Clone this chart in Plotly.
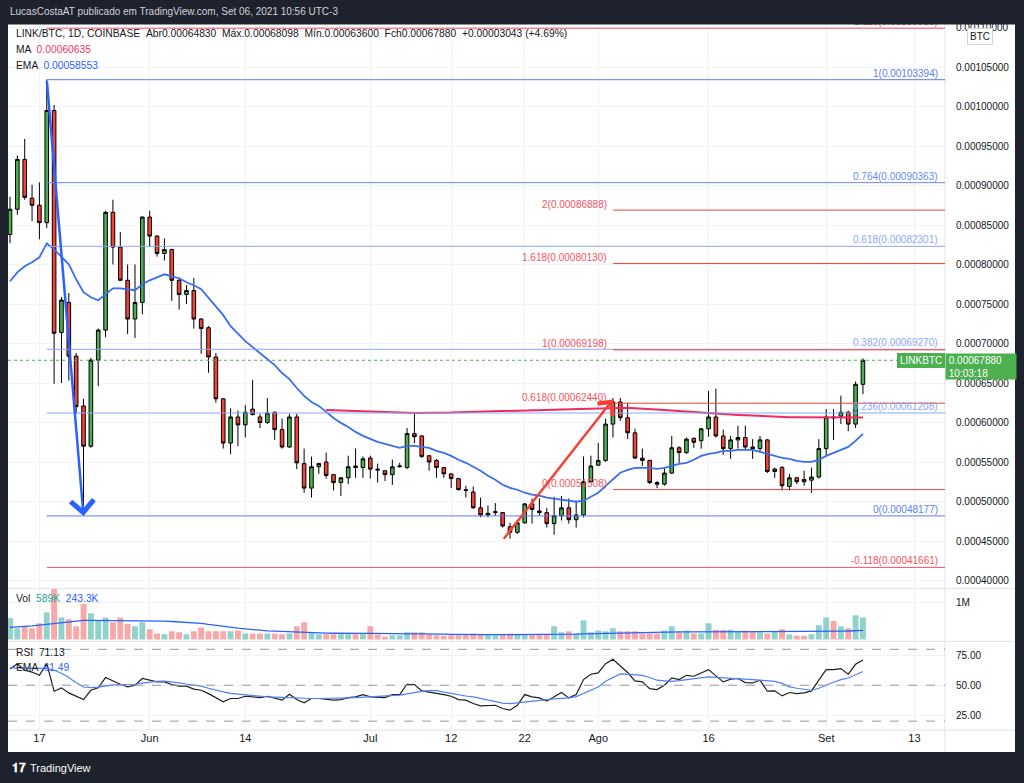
import pandas as pd
import plotly.graph_objects as go

# ---------------- data ----------------
START_DATE = "2021-05-13"

opens = [0.000838, 0.000870, 0.000933, 0.000884, 0.000875, 0.000853, 0.000995, 0.000714, 0.000752, 0.000684,
         0.000621, 0.000570, 0.000679, 0.000717, 0.000866, 0.000822, 0.000780, 0.000731, 0.000752, 0.000860,
         0.000836, 0.000814, 0.000819, 0.000780, 0.000762, 0.000767, 0.000731, 0.000720, 0.000683, 0.000630,
         0.000574, 0.000607, 0.000597, 0.000617, 0.000607, 0.000600, 0.000613, 0.000591, 0.000569, 0.000607,
         0.000548, 0.000517, 0.000544, 0.000550, 0.000534, 0.000524, 0.000530, 0.000545, 0.000543, 0.000555,
         0.000541, 0.000539, 0.000534, 0.000544, 0.000543, 0.000586, 0.000583, 0.000558, 0.000552, 0.000543,
         0.000535, 0.000529, 0.000515, 0.000512, 0.000492, 0.000483, 0.000486, 0.000486, 0.000468, 0.000461,
         0.000473, 0.000497, 0.000488, 0.000486, 0.000472, 0.000482, 0.000492, 0.000477, 0.000483, 0.000525,
         0.000546, 0.000552, 0.000598, 0.000626, 0.000606, 0.000587, 0.000555, 0.000552, 0.000524, 0.000522,
         0.000536, 0.000568, 0.000562, 0.000580, 0.000577, 0.000592, 0.000607, 0.000583, 0.000567, 0.000578,
         0.000581, 0.000569, 0.000567, 0.000578, 0.000538, 0.000543, 0.000519, 0.000530, 0.000528, 0.000527,
         0.000531, 0.000567, 0.000607, 0.000608, 0.000613, 0.000598, 0.0006483]

highs = [0.000886, 0.000938, 0.000959, 0.000901, 0.000904, 0.00103394, 0.001002, 0.000759, 0.000764, 0.000688,
         0.000630, 0.000682, 0.000719, 0.000868, 0.000882, 0.000841, 0.000800, 0.000800, 0.000861, 0.000868,
         0.000837, 0.000833, 0.000820, 0.000783, 0.000774, 0.000783, 0.000732, 0.000722, 0.000688, 0.000631,
         0.000618, 0.000615, 0.000622, 0.000654, 0.000611, 0.000631, 0.000614, 0.000605, 0.000611, 0.000611,
         0.000567, 0.000557, 0.000549, 0.000562, 0.000534, 0.000531, 0.000558, 0.000567, 0.000557, 0.000558,
         0.000548, 0.000539, 0.000553, 0.000549, 0.000593, 0.000611, 0.000584, 0.000558, 0.000554, 0.000543,
         0.000535, 0.000530, 0.000520, 0.000519, 0.000505, 0.000495, 0.000498, 0.000486, 0.000473, 0.000476,
         0.000498, 0.000504, 0.000504, 0.000492, 0.000506, 0.000507, 0.000504, 0.000501, 0.000557, 0.000558,
         0.000574, 0.000605, 0.000631, 0.000631, 0.000625, 0.000592, 0.000567, 0.000553, 0.000526, 0.000543,
         0.000583, 0.000570, 0.000581, 0.000581, 0.000593, 0.000640, 0.000643, 0.000591, 0.000583, 0.000596,
         0.000596, 0.000579, 0.000583, 0.000579, 0.000543, 0.000545, 0.000535, 0.000531, 0.000539, 0.000543,
         0.000579, 0.000617, 0.000617, 0.000634, 0.000615, 0.000652, 0.00068098]

lows = [0.000827, 0.000863, 0.000882, 0.000855, 0.000832, 0.000846, 0.000649, 0.000650, 0.000653, 0.000611,
        0.00048177, 0.000568, 0.000646, 0.000708, 0.000800, 0.000779, 0.000712, 0.000707, 0.000737, 0.000822,
        0.000810, 0.000805, 0.000754, 0.000743, 0.000750, 0.000719, 0.000687, 0.000663, 0.000625, 0.000567,
        0.000560, 0.000570, 0.000581, 0.000609, 0.000593, 0.000598, 0.000578, 0.000567, 0.000568, 0.000541,
        0.000511, 0.000505, 0.000535, 0.000529, 0.000514, 0.000507, 0.000522, 0.000530, 0.000530, 0.000529,
        0.000524, 0.000526, 0.000521, 0.000543, 0.000541, 0.000574, 0.000555, 0.000539, 0.000530, 0.000530,
        0.000517, 0.000514, 0.000505, 0.000491, 0.000480, 0.000480, 0.000482, 0.000467, 0.000453, 0.000459,
        0.000472, 0.000472, 0.000482, 0.000467, 0.000458, 0.000476, 0.000472, 0.000467, 0.000480, 0.000524,
        0.000545, 0.000550, 0.000581, 0.000602, 0.000579, 0.000554, 0.000545, 0.000522, 0.000517, 0.000520,
        0.000535, 0.000549, 0.000560, 0.000568, 0.000567, 0.000582, 0.000581, 0.000559, 0.000554, 0.000567,
        0.000565, 0.000554, 0.000564, 0.000536, 0.000530, 0.000514, 0.000514, 0.000522, 0.000520, 0.000511,
        0.000529, 0.000558, 0.000578, 0.000598, 0.000589, 0.000593, 0.000636]

closes = [0.000870, 0.000933, 0.000885, 0.000875, 0.000853, 0.000995, 0.000713, 0.000755, 0.000684, 0.000620,
          0.000570, 0.000679, 0.000717, 0.000866, 0.000822, 0.000780, 0.000731, 0.000752, 0.000860, 0.000836,
          0.000814, 0.000819, 0.000780, 0.000762, 0.000767, 0.000731, 0.000719, 0.000683, 0.000630, 0.000574,
          0.000607, 0.000597, 0.000613, 0.000610, 0.000600, 0.000612, 0.000591, 0.000569, 0.000607, 0.000549,
          0.000517, 0.000544, 0.000548, 0.000533, 0.000524, 0.000530, 0.000544, 0.000543, 0.000554, 0.000541,
          0.000540, 0.000534, 0.000544, 0.000545, 0.000586, 0.000582, 0.000557, 0.000550, 0.000543, 0.000535,
          0.000529, 0.000515, 0.000514, 0.000492, 0.000483, 0.000485, 0.000487, 0.000469, 0.000461, 0.000473,
          0.000497, 0.000490, 0.000486, 0.000472, 0.000482, 0.000492, 0.000477, 0.000483, 0.000525, 0.000545,
          0.000552, 0.000598, 0.000626, 0.000606, 0.000587, 0.000555, 0.000552, 0.000524, 0.000522, 0.000536,
          0.000568, 0.000562, 0.000579, 0.000575, 0.000592, 0.000607, 0.000583, 0.000567, 0.000578, 0.000581,
          0.000569, 0.000567, 0.000578, 0.000538, 0.000541, 0.000520, 0.000530, 0.000525, 0.000525, 0.000531,
          0.000567, 0.000607, 0.000606, 0.000613, 0.000598, 0.00064837, 0.0006788]

# volume in millions
volumes_m = [0.57, 0.30, 0.35, 0.30, 0.43, 0.73, 1.35, 0.59, 0.54, 0.35,
             0.95, 0.70, 0.49, 0.59, 0.46, 0.59, 0.41, 0.35, 0.46, 0.27,
             0.16, 0.14, 0.22, 0.19, 0.14, 0.22, 0.32, 0.22, 0.22, 0.22,
             0.22, 0.24, 0.16, 0.16, 0.16, 0.16, 0.16, 0.14, 0.16, 0.35,
             0.46, 0.19, 0.14, 0.14, 0.14, 0.14, 0.14, 0.14, 0.14, 0.35,
             0.13, 0.08, 0.11, 0.11, 0.19, 0.19, 0.19, 0.13, 0.11, 0.10,
             0.11, 0.11, 0.13, 0.16, 0.13, 0.13, 0.11, 0.13, 0.16, 0.13,
             0.13, 0.13, 0.13, 0.13, 0.35, 0.19, 0.22, 0.16, 0.51, 0.19,
             0.24, 0.22, 0.30, 0.22, 0.22, 0.22, 0.16, 0.16, 0.16, 0.24,
             0.35, 0.19, 0.24, 0.16, 0.16, 0.43, 0.26, 0.26, 0.26, 0.22,
             0.24, 0.22, 0.19, 0.16, 0.22, 0.27, 0.13, 0.10, 0.10, 0.14,
             0.38, 0.59, 0.49, 0.35, 0.30, 0.65, 0.589]

vol_ma_m = [0.32, 0.33, 0.35, 0.36, 0.38, 0.40, 0.43, 0.45, 0.48, 0.50,
            0.51, 0.51, 0.51, 0.51, 0.51, 0.51, 0.51, 0.51, 0.51, 0.51,
            0.50, 0.49, 0.48, 0.47, 0.45, 0.44, 0.43, 0.40, 0.37, 0.35,
            0.32, 0.30, 0.28, 0.26, 0.24, 0.23, 0.22, 0.21, 0.20, 0.19,
            0.185, 0.18, 0.175, 0.17, 0.165, 0.16, 0.16, 0.16, 0.16, 0.16,
            0.16, 0.16, 0.155, 0.155, 0.155, 0.155, 0.155, 0.15, 0.15, 0.14,
            0.135, 0.13, 0.13, 0.13, 0.13, 0.125, 0.125, 0.125, 0.125, 0.125,
            0.125, 0.125, 0.125, 0.125, 0.13, 0.13, 0.135, 0.14, 0.15, 0.155,
            0.16, 0.165, 0.17, 0.175, 0.18, 0.185, 0.19, 0.19, 0.19, 0.195,
            0.20, 0.20, 0.20, 0.20, 0.20, 0.205, 0.205, 0.21, 0.21, 0.21,
            0.21, 0.21, 0.21, 0.21, 0.21, 0.21, 0.205, 0.20, 0.20, 0.20,
            0.205, 0.21, 0.215, 0.22, 0.225, 0.235, 0.2433]

# long moving average (drawn from 43rd bar on)
ma_values = [None] * 43 + [
    0.0006159, 0.0006155, 0.0006151, 0.0006146, 0.0006144, 0.0006140, 0.0006138, 0.0006134, 0.0006131, 0.0006129,
    0.0006126, 0.0006124, 0.0006121, 0.0006121, 0.0006121, 0.0006124, 0.0006126, 0.0006127, 0.0006131, 0.0006134,
    0.0006136, 0.0006139, 0.0006141, 0.0006144, 0.0006146, 0.0006150, 0.0006153, 0.0006155, 0.0006157, 0.0006158,
    0.0006159, 0.0006162, 0.0006164, 0.0006167, 0.0006169, 0.0006172, 0.0006175, 0.0006179, 0.0006184, 0.0006188,
    0.0006191, 0.0006187, 0.0006182, 0.0006178, 0.0006172, 0.0006165, 0.0006159, 0.0006151, 0.0006144, 0.0006136,
    0.0006130, 0.0006124, 0.0006119, 0.0006112, 0.0006106, 0.0006101, 0.0006096, 0.0006091, 0.0006086, 0.0006081,
    0.0006077, 0.0006073, 0.0006071, 0.0006068, 0.0006067, 0.0006066, 0.0006064, 0.0006063, 0.0006063, 0.0006063,
    0.0006062, 0.0006062, 0.0006063, 0.00060635]

ema_values = [0.0007788, 0.0007901, 0.0007977, 0.0008028, 0.0008091, 0.0008268, 0.0008192, 0.0008103, 0.0008002, 0.0007813,
              0.0007649, 0.0007586, 0.0007548, 0.0007624, 0.0007699, 0.0007699, 0.0007687, 0.0007674, 0.0007750, 0.0007800,
              0.0007838, 0.0007876, 0.0007851, 0.0007826, 0.0007775, 0.0007737, 0.0007687, 0.0007573, 0.0007472, 0.0007359,
              0.0007220, 0.0007119, 0.0007030, 0.0006954, 0.0006879, 0.0006803, 0.0006727, 0.0006626, 0.0006550, 0.0006437,
              0.0006336, 0.0006260, 0.0006210, 0.0006134, 0.0006058, 0.0005995, 0.0005944, 0.0005881, 0.0005831, 0.0005793,
              0.0005755, 0.0005730, 0.0005705, 0.0005679, 0.0005705, 0.0005705, 0.0005692, 0.0005679, 0.0005641, 0.0005616,
              0.0005578, 0.0005528, 0.0005490, 0.0005439, 0.0005389, 0.0005326, 0.0005275, 0.0005212, 0.0005174, 0.0005149,
              0.0005111, 0.0005086, 0.0005073, 0.0005048, 0.0005035, 0.0005023, 0.0005010, 0.0004997, 0.0005010, 0.0005061,
              0.0005111, 0.0005199, 0.0005288, 0.0005364, 0.0005401, 0.0005427, 0.0005427, 0.0005427, 0.0005414, 0.0005427,
              0.0005452, 0.0005477, 0.0005490, 0.0005528, 0.0005578, 0.0005604, 0.0005616, 0.0005641, 0.0005641, 0.0005654,
              0.0005654, 0.0005654, 0.0005629, 0.0005604, 0.0005578, 0.0005553, 0.0005540, 0.0005515, 0.0005502, 0.0005502,
              0.0005528, 0.0005578, 0.0005616, 0.0005654, 0.0005692, 0.0005768, 0.00058553]

rsi_values = [63.5, 68.0, 62.5, 61.0, 58.3, 68.0, 45.0, 47.8, 43.6, 41.0,
              38.0, 45.8, 47.8, 56.4, 53.3, 50.8, 48.6, 50.0, 55.6, 54.2,
              52.8, 52.8, 50.6, 49.2, 49.2, 46.7, 45.8, 43.0, 39.7, 36.1,
              38.9, 38.9, 40.8, 40.3, 39.7, 40.8, 38.9, 37.5, 42.5, 38.0,
              35.3, 38.9, 38.9, 38.0, 37.5, 38.0, 39.7, 40.3, 42.2, 40.3,
              40.3, 39.7, 42.2, 42.2, 50.8, 50.6, 45.3, 44.4, 43.6, 42.2,
              40.8, 38.0, 37.5, 34.7, 32.8, 33.3, 33.3, 30.6, 29.2, 33.3,
              42.2, 40.3, 39.4, 36.7, 40.3, 43.9, 39.4, 42.2, 54.7, 59.2,
              60.3, 68.0, 71.7, 65.8, 60.6, 53.6, 52.8, 47.2, 46.4, 50.0,
              56.1, 54.7, 58.3, 57.5, 60.6, 63.0, 57.8, 52.8, 55.0, 55.6,
              52.2, 51.9, 54.2, 45.0, 45.3, 41.1, 43.9, 43.0, 43.6, 45.3,
              54.2, 63.0, 63.0, 63.9, 59.2, 67.5, 71.13]

rsi_ema_values = [64.5, 64.5, 64.5, 64.5, 64.0, 64.0, 62.5, 60.0, 56.5, 52.0,
                  48.5, 48.0, 48.5, 49.5, 50.3, 50.6, 50.7, 50.8, 51.8, 52.8,
                  53.2, 53.5, 53.0, 52.0, 51.0, 50.0, 49.3, 47.5, 45.8, 44.5,
                  43.2, 42.5, 41.9, 41.6, 41.0, 40.3, 40.0, 39.7, 39.5, 39.0,
                  38.9, 38.9, 38.9, 38.9, 38.9, 39.1, 39.4, 39.7, 40.0, 40.3,
                  40.8, 41.2, 41.5, 41.7, 42.8, 44.0, 44.8, 45.5, 45.5, 44.2,
                  43.0, 42.0, 41.0, 40.3, 39.0, 37.6, 36.3, 35.0, 34.6, 35.3,
                  36.2, 36.8, 37.5, 38.0, 38.6, 39.0, 39.4, 40.5, 43.0, 45.8,
                  48.5, 53.4, 56.5, 59.5, 59.3, 58.6, 58.2, 56.5, 54.2, 53.7,
                  53.3, 53.8, 54.5, 55.3, 56.3, 56.9, 56.5, 56.0, 55.8, 55.6,
                  55.0, 54.6, 54.2, 53.8, 53.2, 51.5, 48.6, 47.5, 46.5, 45.8,
                  47.5, 50.3, 52.5, 54.7, 56.0, 58.8, 61.49]

# Fibonacci drawings
FIB1_START = "2021-05-18"
fib1_levels = ["1.118", "1", "0.764", "0.618", "0.382", "0.236", "0", "-0.118"]
fib1_prices = [0.00109910, 0.00103394, 0.00090363, 0.00082301, 0.00069270, 0.00061208, 0.00048177, 0.00041661]
fib1_colors = ["#f7525f", "#5b7ff0", "#6a8cf2", "#8aa8f6", "#8aa8f6", "#8aa8f6", "#5b7ff0", "#f7525f"]

FIB2_START = "2021-08-03"
fib2_levels = ["2", "1.618", "1", "0.618", "0"]
fib2_prices = [0.00086888, 0.00080130, 0.00069198, 0.00062440, 0.00051508]

# trend arrows (tail -> head)
blue_arrow = dict(x0="2021-05-18", y0=0.00103394, x1="2021-05-23", y1=0.00048177)
red_arrow = dict(x0="2021-07-19", y0=0.000451, x1="2021-08-03", y1=0.000629)

tick_dates = ["2021-05-17", "2021-06-01", "2021-06-14", "2021-07-01", "2021-07-12",
              "2021-07-22", "2021-08-01", "2021-08-16", "2021-09-01", "2021-09-13"]
tick_text = ["17", "Jun", "14", "Jul", "12", "22", "Ago", "16", "Set", "13"]
price_ticks = [0.00040, 0.00045, 0.00050, 0.00055, 0.00060, 0.00065, 0.00070, 0.00075,
               0.00080, 0.00085, 0.00090, 0.00095, 0.00100, 0.00105, 0.00110]

# ---------------- layout helpers ----------------
W, H = 1024, 783
def px(x):
    return x / W
def py(y):
    return 1 - y / H

DARK = "#1e222d"
TXT = "#131722"
GRID = "#f0f3fa"
SEP = "#e0e3eb"
GREEN = "#4caf50"
RED = "#f44336"
FONT = "Liberation Sans, Arial, sans-serif"

dates = pd.date_range(START_DATE, periods=len(closes), freq="D")
x_left = pd.Timestamp(START_DATE) - pd.Timedelta(hours=6.5)
x_right = pd.Timestamp("2021-09-17 03:50")

fig = go.Figure()

fig.add_trace(go.Candlestick(
    x=dates, open=opens, high=highs, low=lows, close=closes,
    increasing=dict(fillcolor=GREEN, line=dict(color="#000000", width=1)),
    decreasing=dict(fillcolor=RED, line=dict(color="#000000", width=1)),
    whiskerwidth=0, xaxis="x", yaxis="y", hoverinfo="skip"))
fig.add_trace(go.Scatter(x=dates, y=ma_values, mode="lines",
                         line=dict(color="#ec2a66", width=2), xaxis="x", yaxis="y", hoverinfo="skip"))
fig.add_trace(go.Scatter(x=dates, y=ema_values, mode="lines",
                         line=dict(color="#3a6cf4", width=1.8), xaxis="x", yaxis="y", hoverinfo="skip"))

vol_colors = ["rgba(38,166,154,0.5)" if c >= o else "rgba(239,83,80,0.5)" for o, c in zip(opens, closes)]
fig.add_trace(go.Bar(x=dates, y=volumes_m, marker=dict(color=vol_colors, line=dict(width=0)),
                     width=0.8 * 86400000, xaxis="x2", yaxis="y2", hoverinfo="skip"))
fig.add_trace(go.Scatter(x=dates, y=vol_ma_m, mode="lines",
                         line=dict(color="#2962ff", width=1.3), xaxis="x2", yaxis="y2", hoverinfo="skip"))

fig.add_trace(go.Scatter(x=dates, y=rsi_values, mode="lines",
                         line=dict(color="#1e1e1e", width=1.2), xaxis="x3", yaxis="y3", hoverinfo="skip"))
fig.add_trace(go.Scatter(x=dates, y=rsi_ema_values, mode="lines",
                         line=dict(color="#4f80f7", width=1.2), xaxis="x3", yaxis="y3", hoverinfo="skip"))

xcommon = dict(range=[x_left, x_right], domain=[px(8), px(945)], showgrid=True, gridcolor=GRID,
               gridwidth=1, zeroline=False, showline=False, tickvals=tick_dates, ticktext=tick_text,
               fixedrange=True)
ycommon = dict(side="right", showgrid=True, gridcolor=GRID, zeroline=False, showline=False,
               ticks="outside", ticklen=8, tickcolor="rgba(0,0,0,0)",
               tickfont=dict(family=FONT, size=10, color=TXT), fixedrange=True)

fig.update_layout(
    width=W, height=H, margin=dict(l=0, r=0, t=0, b=0),
    paper_bgcolor=DARK, plot_bgcolor="#ffffff", showlegend=False, hovermode=False,
    font=dict(family=FONT, color=TXT),
    xaxis=dict(**xcommon, anchor="y", showticklabels=False, rangeslider=dict(visible=False)),
    xaxis2=dict(**xcommon, anchor="y2", matches="x", showticklabels=False),
    xaxis3=dict(**xcommon, anchor="y3", matches="x", showticklabels=True, ticks="",
                tickfont=dict(family=FONT, size=11, color=TXT)),
    yaxis=dict(**ycommon, anchor="x", domain=[py(588), py(22)], range=[0.0003899, 0.0011045],
               tickvals=price_ticks, tickformat=".8f"),
    yaxis2=dict(**ycommon, anchor="x2", domain=[py(641), py(588)], range=[-0.053, 1.364],
                tickvals=[1.0], ticktext=["1M"]),
    yaxis3=dict(**ycommon, anchor="x3", domain=[py(730), py(642)], range=[12.5, 85.8],
                tickvals=[25, 50, 75], ticktext=["25.00", "50.00", "75.00"]),
)

shapes = []
# white chart area
shapes.append(dict(type="rect", xref="paper", yref="paper", x0=px(8), x1=px(1015), y0=py(752), y1=py(21),
                   fillcolor="#ffffff", line=dict(width=0), layer="below"))
# pane separators
for yy in (588, 641, 730):
    shapes.append(dict(type="line", xref="paper", yref="paper", x0=px(8), x1=px(1015), y0=py(yy), y1=py(yy),
                       line=dict(color=SEP, width=1)))
shapes.append(dict(type="line", xref="paper", yref="paper", x0=px(945), x1=px(945), y0=py(752), y1=py(21),
                   line=dict(color=SEP, width=1)))
# RSI bands
for lvl in (80, 50, 20):
    shapes.append(dict(type="line", xref="paper", yref="y3", x0=px(8), x1=px(945), y0=lvl, y1=lvl,
                       line=dict(color="#9598a1", width=1, dash="dash")))
# fib 1 (blue retracement)
for lvl, pr, col in zip(fib1_levels, fib1_prices, fib1_colors):
    shapes.append(dict(type="line", xref="x", yref="y", x0=FIB1_START, x1=x_right, y0=pr, y1=pr,
                       line=dict(color=col, width=1)))
# fib 2 (red extension)
for lvl, pr in zip(fib2_levels, fib2_prices):
    shapes.append(dict(type="line", xref="x", yref="y", x0=FIB2_START, x1=x_right, y0=pr, y1=pr,
                       line=dict(color="#f44336", width=1)))
# last price dotted line
shapes.append(dict(type="line", xref="paper", yref="y", x0=px(8), x1=px(945), y0=closes[-1], y1=closes[-1],
                   line=dict(color=GREEN, width=1, dash="dot")))
# symbol tag
shapes.append(dict(type="rect", xref="paper", yref="paper", x0=px(897), x1=px(945), y0=py(367), y1=py(352),
                   fillcolor=GREEN, line=dict(width=0)))
# footer bar
shapes.append(dict(type="rect", xref="paper", yref="paper", x0=0, x1=1, y0=0, y1=py(752),
                   fillcolor=DARK, line=dict(width=0)))
fig.update_layout(shapes=shapes)

ann = []
# fib labels
for lvl, pr, col in zip(fib1_levels, fib1_prices, fib1_colors):
    ann.append(dict(xref="paper", yref="y", x=px(940), y=pr, xanchor="right", yanchor="bottom",
                    text=f"{lvl}({pr:.8f})", showarrow=False, yshift=-1,
                    font=dict(family=FONT, size=10, color=col)))
for lvl, pr in zip(fib2_levels, fib2_prices):
    ann.append(dict(xref="paper", yref="y", x=px(609), y=pr, xanchor="right", yanchor="middle",
                    text=f"{lvl}({pr:.8f})", showarrow=False, yshift=6,
                    font=dict(family=FONT, size=10, color="#f7525f")))
# arrows
ann.append(dict(xref="x", yref="y", axref="x", ayref="y", x=blue_arrow["x1"], y=blue_arrow["y1"],
                ax=blue_arrow["x0"], ay=blue_arrow["y0"], text="", showarrow=True, arrowhead=4,
                arrowsize=1.8, arrowwidth=2.5, arrowcolor="#2962ff"))
ann.append(dict(xref="x", yref="y", axref="x", ayref="y", x=red_arrow["x1"], y=red_arrow["y1"],
                ax=red_arrow["x0"], ay=red_arrow["y0"], text="", showarrow=True, arrowhead=4,
                arrowsize=1.5, arrowwidth=2.5, arrowcolor="#f44336"))
# legends
def txt(x, y, text, size=11, color=TXT, anchor="left"):
    return dict(xref="paper", yref="paper", x=px(x), y=py(y), xanchor=anchor, yanchor="middle",
                text=text, showarrow=False, font=dict(family=FONT, size=size, color=color))

NB = "\u00a0"
header = (f"LINK/BTC, 1D, COINBASE{NB}{NB}Abr0.00064830{NB}{NB}Máx.0.00068098{NB}{NB}"
          f"Mín.0.00063600{NB}{NB}Fch0.00067880{NB}{NB}+0.00003043 (+4.69%)")
ann.append(txt(14, 32, header, 10.3))
ann.append(txt(14, 48, "MA  <span style='color:#f23667'>0.00060635</span>", 10.3))
ann.append(txt(14, 64, "EMA  <span style='color:#2962ff'>0.00058553</span>", 10.3))
ann.append(txt(14, 598, "Vol  <span style='color:#26a69a'>589K</span>  <span style='color:#2962ff'>243.3K</span>", 10.3))
ann.append(txt(14, 652, "RSI  71.13", 10.3))
ann.append(txt(14, 667, "EMA  <span style='color:#2962ff'>61.49</span>", 10.3))
# tags
ann.append(txt(921, 359.5, "LINKBTC", 10, "#ffffff", "center"))
ann.append(dict(xref="paper", yref="paper", x=px(945), y=py(352), xanchor="left", yanchor="top",
                width=70, height=25, align="left", bgcolor=GREEN, borderpad=0, showarrow=False,
                text=f"{NB}0.00067880<br>{NB}10:03:18",
                font=dict(family=FONT, size=10, color="#ffffff")))
# BTC currency box
ann.append(dict(xref="paper", yref="paper", x=px(980), y=py(35), xanchor="center", yanchor="middle",
                text="BTC", showarrow=False, bgcolor="#ffffff", bordercolor="#d1d4dc", borderwidth=1,
                borderpad=2, font=dict(family=FONT, size=10, color=TXT)))
# top bar (covers anything above the chart)
ann.append(dict(xref="paper", yref="paper", x=0, y=1, xanchor="left", yanchor="top", width=W, height=21,
                text=" ", showarrow=False, bgcolor=DARK, borderpad=0))
ann.append(txt(8, 10, "LucasCostaAT publicado em TradingView.com, Set 06, 2021 10:56 UTC-3", 10, "#d1d4dc"))
# footer logo
ann.append(txt(10, 768, "<b>𝟏𝟕</b>", 12, "#ffffff"))
ann.append(txt(28, 768, "TradingView", 11, "#ffffff"))
fig.update_layout(annotations=ann)

fig.write_html("out.html")
